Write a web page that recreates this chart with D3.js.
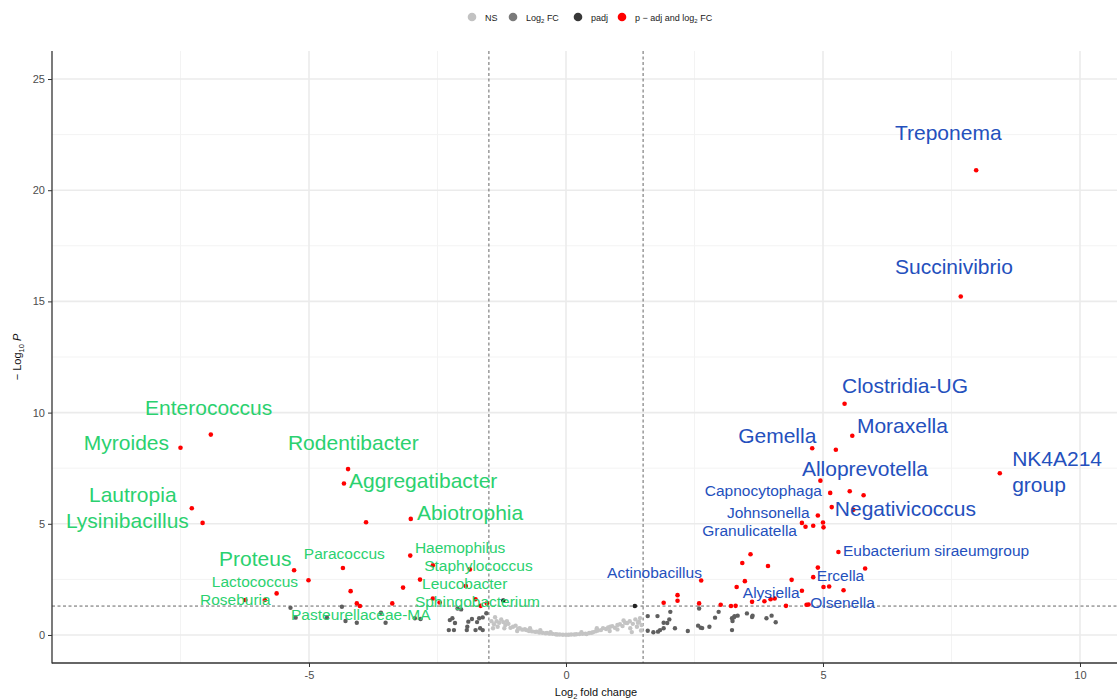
<!DOCTYPE html>
<html>
<head>
<meta charset="utf-8">
<script src="https://cdn.jsdelivr.net/npm/d3@7"></script>
<style>
  html, body { margin: 0; padding: 0; background: #ffffff; }
  svg { display: block; font-family: "Liberation Sans", Arial, sans-serif; }
</style>
</head>
<body>
<svg id="chart" width="1117" height="700"></svg>
<script>
// ---------------- DATA ----------------
// significant (p-adj and log2 FC) points
const sigFC = [7.98, 7.68, 5.42, 5.57, 4.79, 5.25, 8.44, 4.95, 5.14, 5.52, 5.79, 5.17, 5.59, 4.90, 4.59, 4.66, 4.81, 5.00, 5.01, 5.30,
  3.59, 3.43, 3.93, 4.90, 5.82, 4.81, 2.63, 3.48, 4.39, 3.32, 5.01, 5.12, 5.40, 4.59, 3.62, 3.86, 3.98, 4.06, 4.28, 4.68, 4.72,
  1.90, 2.17, 2.17, 2.59, 3.01, 3.21, 3.30,
  -6.91, -7.50, -4.24, -4.32, -7.28, -7.07, -3.89, -3.02, -3.03, -4.34, -5.29, -2.59, -1.87, -5.01, -2.84, -1.95, -4.19, -3.17,
  -5.63, -6.24, -5.86, -4.07, -4.01, -3.38, -2.59, -2.46, -1.76, -1.66, -1.54];
const sigP = [20.9, 15.22, 10.40, 8.96, 8.40, 8.33, 7.27, 6.94, 6.39, 6.46, 6.28, 5.75, 5.63, 5.37, 5.04, 4.87, 4.91, 5.06, 4.84, 3.73,
  3.63, 3.24, 3.10, 3.03, 2.99, 2.60, 2.45, 2.42, 2.48, 2.16, 2.16, 2.18, 2.01, 1.99, 1.49, 1.52, 1.61, 1.64, 1.31, 1.36, 1.37,
  1.45, 1.79, 1.54, 1.42, 1.36, 1.30, 1.31,
  9.01, 8.42, 7.46, 6.81, 5.70, 5.04, 5.07, 5.22, 3.57, 3.01, 2.91, 3.13, 2.95, 2.46, 2.49, 2.20, 1.97, 2.13,
  1.87, 1.57, 1.57, 1.42, 1.30, 1.42, 1.64, 1.46, 1.61, 1.31, 1.42];

// padj only
const padjFC = [1.34, -1.22];
const padjP = [1.30, 1.55];

// log2 FC only
const fcFC = [-5.36, -5.26, -4.65, -4.36, -4.29, -4.07, -3.60, -3.51, -2.94, -2.83, -2.21, -2.11, -2.04, -2.28, -2.18, -1.90, -1.83,
  -1.92, -1.76, -1.69, -1.62, -1.62, -2.26, -2.16, -1.73, -1.67, -1.93, -1.55,
  1.59, 1.78, 2.03, 2.01, 1.90, 1.59, 1.70, 1.79, 1.90, 2.12, 2.37, 2.59, 2.57, 2.62, 2.79, 2.90, 2.97, 3.23, 3.28, 3.34, 3.24,
  3.23, 3.52, 3.63, 3.90, 4.00, 4.08, 1.97, 1.83, 2.65, 3.27, 3.62];
const fcP = [1.22, 0.78, 0.78, 1.27, 0.63, 0.55, 1.00, 0.55, 0.75, 0.72, 0.75, 1.19, 1.15, 0.22, 0.22, 0.60, 0.72,
  0.37, 0.22, 0.75, 0.79, 0.22, 0.67, 0.54, 0.58, 0.30, 0.22, 0.98,
  0.85, 0.85, 1.04, 0.70, 0.55, 0.19, 0.12, 0.15, 0.30, 0.30, 0.18, 1.19, 0.42, 0.33, 0.37, 0.78, 1.04, 0.75, 0.85, 0.87, 0.63,
  0.22, 0.97, 0.87, 0.75, 0.87, 0.57, 0.54, 0.22, 0.31, 0.80, 0.81];

// not significant
const nsFC = [-1.45, -1.40, -1.38, -1.33, -1.30, -1.26, -1.22, -1.18, -1.12, -1.08, -1.03, -0.98, -0.93, -0.90, -0.85, -0.80, -0.77,
  -0.72, -0.66, -0.60, -0.57, -0.52, -0.46, -0.40, -0.37, -0.32, -0.26, -0.20, -0.17, -0.12, -0.06, 0.00, 0.05, 0.10, 0.16, 0.20,
  0.26, 0.32, 0.38, 0.40, 0.45, 0.50, 0.53, 0.58, 0.62, 0.68, 0.72, 0.78, 0.82, 0.86, 0.90, 0.95, 1.00, 1.05, 1.10, 1.15, 1.19,
  1.24, 1.28, 1.30, 1.35, 1.38, 1.42, 1.44, 1.47,
  -1.42, -1.35, -1.20, -1.15, -0.95, -0.70, -0.50, -0.30, 0.30, 0.60, 0.85, 1.00, 1.12, 1.25, 1.40, 1.46];
const nsP = [0.62, 0.48, 0.80, 0.37, 0.55, 0.70, 0.58, 0.45, 0.50, 0.32, 0.37, 0.42, 0.28, 0.30, 0.24, 0.26, 0.22,
  0.18, 0.16, 0.14, 0.15, 0.11, 0.10, 0.08, 0.09, 0.06, 0.05, 0.03, 0.02, 0.02, 0.01, 0.01, 0.01, 0.02, 0.02, 0.03,
  0.04, 0.05, 0.06, 0.04, 0.09, 0.10, 0.13, 0.17, 0.20, 0.22, 0.31, 0.27, 0.34, 0.37, 0.40, 0.32, 0.45, 0.48, 0.40, 0.55, 0.54,
  0.62, 0.13, 0.50, 0.70, 0.37, 0.60, 0.76, 0.45,
  0.30, 0.62, 0.30, 0.62, 0.18, 0.30, 0.22, 0.13, 0.12, 0.30, 0.18, 0.25, 0.65, 0.30, 0.55, 0.20];

// labels
const labelNames = ["Treponema", "Succinivibrio", "Clostridia-UG", "Moraxella", "Gemella", "Alloprevotella", "NK4A214|group",
  "Capnocytophaga", "Negativicoccus", "Johnsonella", "Granulicatella", "Eubacterium siraeumgroup", "Actinobacillus", "Ercella",
  "Alysiella", "Olsenella",
  "Enterococcus", "Myroides", "Rodentibacter", "Aggregatibacter", "Lautropia", "Lysinibacillus", "Abiotrophia", "Proteus",
  "Paracoccus", "Haemophilus", "Staphylococcus", "Lactococcus", "Leucobacter", "Roseburia", "Sphingobacterium", "Pasteurellaceae-MA"];
const labelDirection = ["up", "up", "up", "up", "up", "up", "up", "up", "up", "up", "up", "up", "up", "up", "up", "up",
  "down", "down", "down", "down", "down", "down", "down", "down", "down", "down", "down", "down", "down", "down", "down", "down"];
const labelBig = [1, 1, 1, 1, 1, 1, 1, 0, 1, 0, 0, 0, 0, 0, 0, 0,
  1, 1, 1, 1, 1, 1, 1, 1, 0, 0, 0, 0, 0, 0, 0, 0];
// label anchor (left edge, vertical middle) in data units
const labelFC = [6.40, 6.40, 5.37, 5.66, 3.35, 4.59, 8.68, 2.70, 5.23, 3.13, 2.65, 5.39, 0.80, 4.88, 3.44, 4.75,
  -8.19, -9.38, -5.41, -4.22, -9.28, -9.73, -2.90, -6.75, -5.10, -2.94, -2.76, -6.89, -2.80, -7.12, -2.94, -5.35];
const labelP = [22.62, 16.59, 11.24, 9.44, 8.99, 7.51, 7.96, 6.52, 5.71, 5.49, 4.68, 3.78, 2.83, 2.70, 1.93, 1.48,
  10.21, 8.68, 8.68, 6.97, 6.34, 5.17, 5.49, 3.46, 3.69, 3.95, 3.12, 2.43, 2.32, 1.62, 1.53, 0.94];

const xTicks = [-5, 0, 5, 10];
const yTicks = [0, 5, 10, 15, 20, 25];
const xMinor = [-7.5, -2.5, 2.5, 7.5];
const yMinor = [2.5, 7.5, 12.5, 17.5, 22.5];
const fcCutoff = 1.5;
const pCutoff = 1.30103;

// ---------------- DRAW ----------------
const svg = d3.select("#chart");
const W = 1117, H = 700;
const pLeft = 52, pRight = 1117, pTop = 51, pBottom = 663;

const x = d3.scaleLinear().domain([-10, 10.72]).range([pLeft, pRight]);
const y = d3.scaleLinear().domain([-1.26, 26.26]).range([pBottom, pTop]);

svg.append("rect").attr("width", W).attr("height", H).attr("fill", "#ffffff");

const grid = svg.append("g");
grid.selectAll(".vmin").data(xMinor).join("line")
  .attr("x1", d => x(d)).attr("x2", d => x(d)).attr("y1", pTop).attr("y2", pBottom)
  .attr("stroke", "#f3f3f3").attr("stroke-width", 1);
grid.selectAll(".hmin").data(yMinor).join("line")
  .attr("x1", pLeft).attr("x2", pRight).attr("y1", d => y(d)).attr("y2", d => y(d))
  .attr("stroke", "#f3f3f3").attr("stroke-width", 1);
grid.selectAll(".vmaj").data(xTicks).join("line")
  .attr("x1", d => x(d)).attr("x2", d => x(d)).attr("y1", pTop).attr("y2", pBottom)
  .attr("stroke", "#ebebeb").attr("stroke-width", 1.6);
grid.selectAll(".hmaj").data(yTicks).join("line")
  .attr("x1", pLeft).attr("x2", pRight).attr("y1", d => y(d)).attr("y2", d => y(d))
  .attr("stroke", "#ebebeb").attr("stroke-width", 1.6);

// threshold lines
const thr = svg.append("g").attr("stroke", "#555").attr("stroke-width", 0.9).attr("stroke-dasharray", "3,2.5").attr("fill", "none");
[-fcCutoff, fcCutoff].forEach(v => {
  thr.append("line").attr("x1", x(v)).attr("x2", x(v)).attr("y1", pTop).attr("y2", pBottom);
});
thr.append("line").attr("x1", pLeft).attr("x2", pRight).attr("y1", y(pCutoff)).attr("y2", y(pCutoff));

// points
function drawPts(fx, py, color, r) {
  svg.append("g").selectAll("circle").data(fx.map((v, i) => [v, py[i]])).join("circle")
    .attr("cx", d => x(d[0])).attr("cy", d => y(d[1])).attr("r", r).attr("fill", color);
}
drawPts(nsFC, nsP, "#c4c4c4", 2.2);
drawPts(fcFC, fcP, "#5f5f5f", 2.2);
drawPts(padjFC, padjP, "#222222", 2.3);
drawPts(sigFC, sigP, "#ff0000", 2.3);

// axes
const xAxis = d3.axisBottom(x).tickValues(xTicks).tickSize(4).tickPadding(4).tickFormat(d3.format("d"));
const yAxis = d3.axisLeft(y).tickValues(yTicks).tickSize(4).tickPadding(3).tickFormat(d3.format("d"));
const gx = svg.append("g").attr("transform", `translate(0,${pBottom})`).call(xAxis);
const gy = svg.append("g").attr("transform", `translate(${pLeft},0)`).call(yAxis);
[gx, gy].forEach(g => {
  g.select(".domain").remove();
  g.selectAll(".tick line").attr("stroke", "#333").attr("stroke-width", 1);
  g.selectAll(".tick text").attr("fill", "#4d4d4d").attr("font-size", 11)
    .attr("font-family", "'Liberation Sans', Arial, sans-serif");
});
gx.selectAll(".tick text").text(d => d < 0 ? "-" + Math.abs(d) : d);
svg.append("line").attr("x1", pLeft).attr("x2", pLeft).attr("y1", pTop).attr("y2", pBottom + 0.5)
  .attr("stroke", "#333").attr("stroke-width", 1.3);
svg.append("line").attr("x1", pLeft).attr("x2", pRight).attr("y1", pBottom).attr("y2", pBottom)
  .attr("stroke", "#333").attr("stroke-width", 1.6);

// axis titles
const xt = svg.append("text").attr("x", 596).attr("y", 696).attr("text-anchor", "middle")
  .attr("font-size", 11).attr("fill", "#111");
xt.append("tspan").text("Log");
xt.append("tspan").attr("font-size", 7.5).attr("dy", 3).text("2");
xt.append("tspan").attr("dy", -3).text(" fold change");

const yt = svg.append("text").attr("transform", `translate(21,${(pTop + pBottom) / 2}) rotate(-90)`)
  .attr("text-anchor", "middle").attr("font-size", 11).attr("fill", "#111");
yt.append("tspan").text("\u2212 Log");
yt.append("tspan").attr("font-size", 7.5).attr("dy", 3).text("10");
yt.append("tspan").attr("dy", -3).text(" ");
yt.append("tspan").attr("font-style", "italic").text("P");

// legend
const legendKeys = ["NS", "Log2 FC", "padj", "p - adj and log2 FC"];
const legendColors = ["#c2c2c2", "#7a7a7a", "#383838", "#ff0000"];
const legendCx = [472, 513, 578, 622];
const lg = svg.append("g");
legendKeys.forEach((k, i) => {
  lg.append("circle").attr("cx", legendCx[i]).attr("cy", 17).attr("r", 4.3).attr("fill", legendColors[i]);
  const t = lg.append("text").attr("x", legendCx[i] + 13).attr("y", 20.5).attr("font-size", 9).attr("fill", "#222");
  if (k === "Log2 FC") {
    t.append("tspan").text("Log");
    t.append("tspan").attr("font-size", 6).attr("dy", 2).text("2");
    t.append("tspan").attr("dy", -2).text(" FC");
  } else if (k === "p - adj and log2 FC") {
    t.append("tspan").text("p \u2212 adj and log");
    t.append("tspan").attr("font-size", 6).attr("dy", 2).text("2");
    t.append("tspan").attr("dy", -2).text(" FC");
  } else {
    t.text(k);
  }
});

// labels
const labelColor = { up: "#2450bd", down: "#2bd16f" };
labelNames.forEach((name, i) => {
  const fs = labelBig[i] ? 21 : 15.5;
  const t = svg.append("text")
    .attr("x", x(labelFC[i]))
    .attr("y", y(labelP[i]))
    .attr("dy", "0.36em")
    .attr("font-size", fs)
    .attr("fill", labelColor[labelDirection[i]]);
  const parts = name.split("|");
  if (parts.length === 1) {
    t.text(name);
  } else {
    t.append("tspan").text(parts[0]);
    t.append("tspan").attr("x", x(labelFC[i])).attr("dy", "1.25em").text(parts[1]);
  }
});
</script>
</body>
</html>
